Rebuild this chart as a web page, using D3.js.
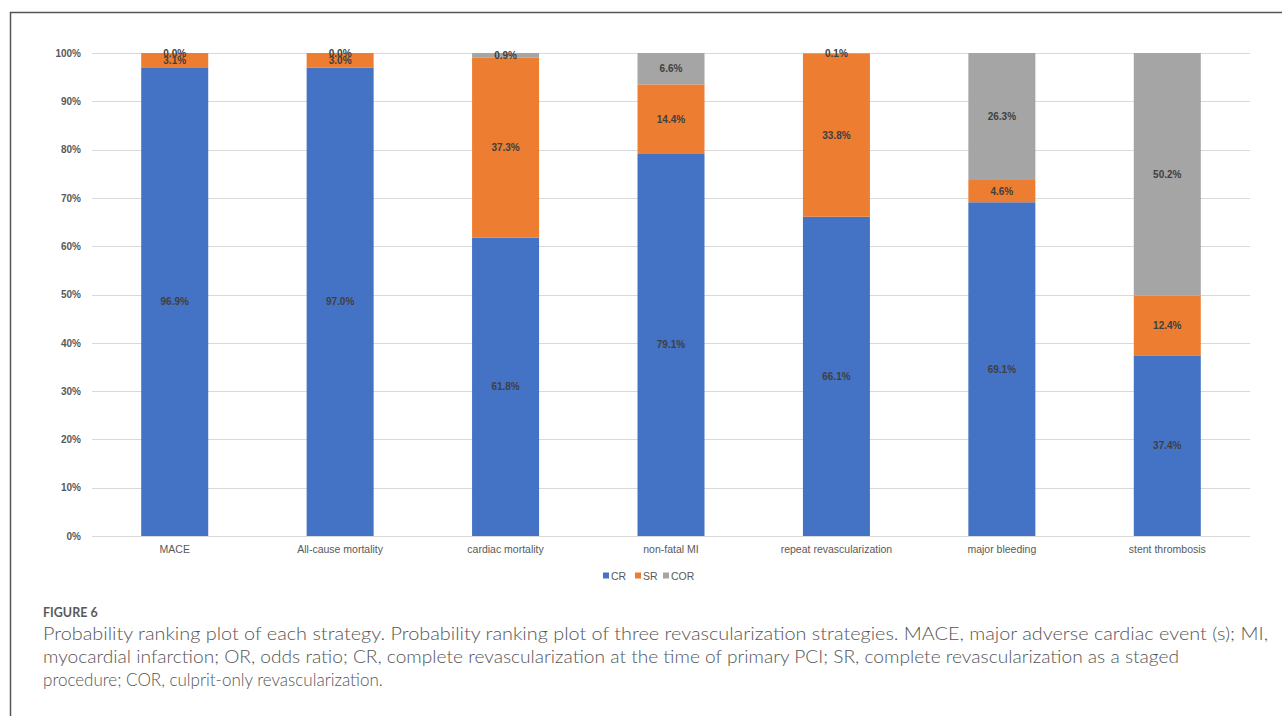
<!DOCTYPE html>
<html>
<head>
<meta charset="utf-8">
<script src="https://cdn.jsdelivr.net/npm/d3@7"></script>
<style>
  html, body { margin: 0; padding: 0; background: #fff; }
  svg { display: block; }
</style>
</head>
<body>
<svg id="fig" width="1282" height="716"></svg>
<script>
// Outcomes and the probability of each strategy ranking best (%)
const categories = ["MACE", "All-cause mortality", "cardiac mortality", "non-fatal MI",
  "repeat revascularization", "major bleeding", "stent thrombosis"];
const seriesNames = ["CR", "SR", "COR"];
const crValues  = [96.9, 97.0, 61.8, 79.1, 66.1, 69.1, 37.4];
const srValues  = [3.1, 3.0, 37.3, 14.4, 33.8, 4.6, 12.4];
const corValues = [0.0, 0.0, 0.9, 6.6, 0.1, 26.3, 50.2];
const yTicks = [0, 10, 20, 30, 40, 50, 60, 70, 80, 90, 100];
const colors = ["#4472c4", "#ed7d31", "#a5a5a5"];

const captionTitle = "FIGURE 6";
const captionLines = [
  "Probability ranking plot of each strategy. Probability ranking plot of three revascularization strategies. MACE, major adverse cardiac event (s); MI,",
  "myocardial infarction; OR, odds ratio; CR, complete revascularization at the time of primary PCI; SR, complete revascularization as a staged",
  "procedure; COR, culprit-only revascularization."
];

const svg = d3.select("#fig");

// Figure frame (top and left rules)
svg.append("line").attr("x1", 10).attr("y1", 12.5).attr("x2", 1282).attr("y2", 12.5)
  .attr("stroke", "#555").attr("stroke-width", 1.5);
svg.append("line").attr("x1", 10.5).attr("y1", 12).attr("x2", 10.5).attr("y2", 716)
  .attr("stroke", "#555").attr("stroke-width", 1.5);

const chartFont = "'Liberation Sans', Arial, sans-serif";
const plotLeft = 92, plotRight = 1250, plotTop = 53, plotBottom = 536;

const x = d3.scaleBand().domain(categories).range([plotLeft, plotRight]).paddingInner(0.595).paddingOuter(0.2975);
const y = d3.scaleLinear().domain([0, 100]).range([plotBottom, plotTop]);

// Gridlines
svg.append("g").selectAll("line").data(yTicks).join("line")
  .attr("x1", plotLeft).attr("x2", plotRight)
  .attr("y1", d => Math.round(y(d)) + 0.5).attr("y2", d => Math.round(y(d)) + 0.5)
  .attr("stroke", "#d9d9d9").attr("stroke-width", 1);

// Y axis labels
const yAxis = d3.axisLeft(y).tickValues(yTicks).tickFormat(d => d + "%").tickSize(0).tickPadding(11);
const yg = svg.append("g").attr("transform", `translate(${plotLeft},0)`).call(yAxis);
yg.select(".domain").remove();
yg.selectAll("text").attr("font-family", chartFont).attr("font-size", 10)
  .attr("font-weight", "bold").attr("fill", "#595959");

// X axis labels
const xAxis = d3.axisBottom(x).tickSize(0).tickPadding(10);
const xg = svg.append("g").attr("transform", `translate(0,${plotBottom})`).call(xAxis);
xg.select(".domain").remove();
xg.selectAll("text").attr("font-family", chartFont).attr("font-size", 10.5).attr("fill", "#595959");

// Stack the series
const rows = categories.map((c, i) => ({ cat: c, CR: crValues[i], SR: srValues[i], COR: corValues[i] }));
const stacked = d3.stack().keys(seriesNames)(rows);

const layers = svg.append("g").selectAll("g").data(stacked).join("g")
  .attr("fill", (d, i) => colors[i]);

layers.selectAll("rect").data(d => d).join("rect")
  .attr("x", d => x(d.data.cat))
  .attr("width", x.bandwidth())
  .attr("y", d => y(Math.min(d[1], 100)))
  .attr("height", d => Math.max(0, y(d[0]) - y(Math.min(d[1], 100))));

// Data labels centred in each segment
const labels = svg.append("g");
stacked.forEach(layer => {
  layer.forEach(d => {
    const mid = (d[0] + Math.min(d[1], 100)) / 2;
    labels.append("text")
      .attr("x", x(d.data.cat) + x.bandwidth() / 2)
      .attr("y", y(mid))
      .attr("dy", "0.35em")
      .attr("text-anchor", "middle")
      .attr("font-family", chartFont).attr("font-size", 10).attr("font-weight", "bold")
      .attr("fill", "#404040")
      .text(d.data[layer.key].toFixed(1) + "%");
  });
});

// Legend
const legendX = [603, 635, 663];
const lg = svg.append("g");
seriesNames.forEach((s, i) => {
  lg.append("rect").attr("x", legendX[i]).attr("y", 572.5).attr("width", 6).attr("height", 6).attr("fill", colors[i]);
  lg.append("text").attr("x", legendX[i] + 8).attr("y", 576).attr("dy", "0.35em")
    .attr("font-family", chartFont).attr("font-size", 10.5).attr("fill", "#595959").text(s);
});

// Caption
const capFont = "Lato, 'Open Sans', sans-serif";
svg.append("text").attr("x", 43).attr("y", 617)
  .attr("font-family", capFont).attr("font-size", 12.5).attr("font-weight", "bold").attr("fill", "#5a5a5a")
  .text(captionTitle);
const lineWidths = [1225, 1136, null];
captionLines.forEach((t, i) => {
  const tx = svg.append("text").attr("x", 43).attr("y", 640 + i * 23)
    .attr("font-family", capFont).attr("font-size", 17).attr("font-weight", 300)
    .attr("fill", "#555").text(t);
  if (lineWidths[i]) tx.attr("textLength", lineWidths[i]).attr("lengthAdjust", "spacingAndGlyphs");
});
</script>
</body>
</html>
